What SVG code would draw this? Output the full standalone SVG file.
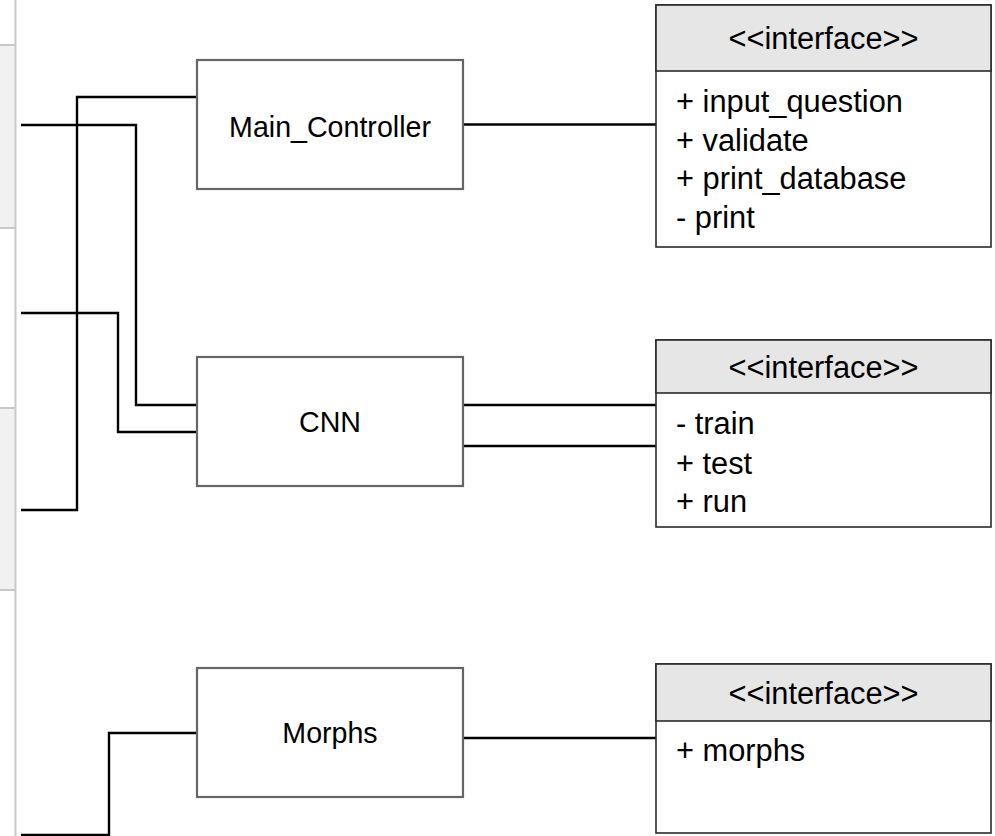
<svg xmlns="http://www.w3.org/2000/svg" width="995" height="836" viewBox="0 0 995 836">
  <style>
    .panel { fill: #f1f1f1; }
    .rule { stroke: #c8c8c8; stroke-width: 2; fill: none; }
    .node { fill: #ffffff; stroke: #666663; stroke-width: 2.2; }
    .iface { fill: #ffffff; stroke: #2a2a2a; stroke-width: 1.6; }
    .iface-head { fill: #e6e6e6; stroke: #2a2a2a; stroke-width: 1.6; }
    .wire { fill: none; stroke: #000000; stroke-width: 2.4; }
    .label { font-family: "Liberation Sans", Arial, sans-serif; font-size: 28.6px; fill: #000000; text-anchor: middle; }
    .head { font-family: "Liberation Sans", Arial, sans-serif; font-size: 30.8px; fill: #000000; text-anchor: middle; }
    .item { font-family: "Liberation Sans", Arial, sans-serif; font-size: 30.8px; fill: #000000; }
  </style>

  <!-- side panel strip -->
  <g id="side-panel">
    <rect class="panel" x="0" y="45" width="15" height="183"/>
    <rect class="panel" x="0" y="408" width="15" height="182"/>
    <path class="rule" d="M0,45 H15 M0,228 H15 M0,408 H15 M0,590 H15"/>
    <path class="rule" d="M15.5,0 V836"/>
  </g>

  <!-- connectors -->
  <g id="connectors">
    <path class="wire" d="M21,125 H136 V405 H197"/>
    <path class="wire" d="M21,510 H77 V97 H197"/>
    <path class="wire" d="M21,313 H118 V432 H197"/>
    <path class="wire" d="M21,835 H109 V733 H197"/>
    <path class="wire" d="M463,124.5 H656"/>
    <path class="wire" d="M463,405 H656"/>
    <path class="wire" d="M463,446 H656"/>
    <path class="wire" d="M463,738 H656"/>
  </g>

  <g id="main-controller">
    <rect class="node" x="197" y="60" width="266" height="129"/>
    <text class="label" x="330" y="136.5">Main_Controller</text>
  </g>

  <g id="cnn">
    <rect class="node" x="197" y="357" width="266" height="129"/>
    <text class="label" x="330" y="432">CNN</text>
  </g>

  <g id="morphs">
    <rect class="node" x="197" y="668" width="266" height="129"/>
    <text class="label" x="330" y="743">Morphs</text>
  </g>

  <g id="main-controller-interface">
    <rect class="iface" x="656" y="5" width="335" height="242"/>
    <rect class="iface-head" x="656" y="5" width="335" height="66"/>
    <text class="head" x="823.5" y="49">&lt;&lt;interface&gt;&gt;</text>
    <text class="item" x="676" y="112">+ input_question</text>
    <text class="item" x="676" y="150.5">+ validate</text>
    <text class="item" x="676" y="189">+ print_database</text>
    <text class="item" x="676" y="227.5">- print</text>
  </g>

  <g id="cnn-interface">
    <rect class="iface" x="656" y="340" width="335" height="187"/>
    <rect class="iface-head" x="656" y="340" width="335" height="53"/>
    <text class="head" x="823.5" y="377.5">&lt;&lt;interface&gt;&gt;</text>
    <text class="item" x="676" y="434">- train</text>
    <text class="item" x="676" y="474">+ test</text>
    <text class="item" x="676" y="512">+ run</text>
  </g>

  <g id="morphs-interface">
    <rect class="iface" x="656" y="664" width="335" height="169"/>
    <rect class="iface-head" x="656" y="664" width="335" height="57"/>
    <text class="head" x="823.5" y="704">&lt;&lt;interface&gt;&gt;</text>
    <text class="item" x="676" y="761">+ morphs</text>
  </g>
</svg>
